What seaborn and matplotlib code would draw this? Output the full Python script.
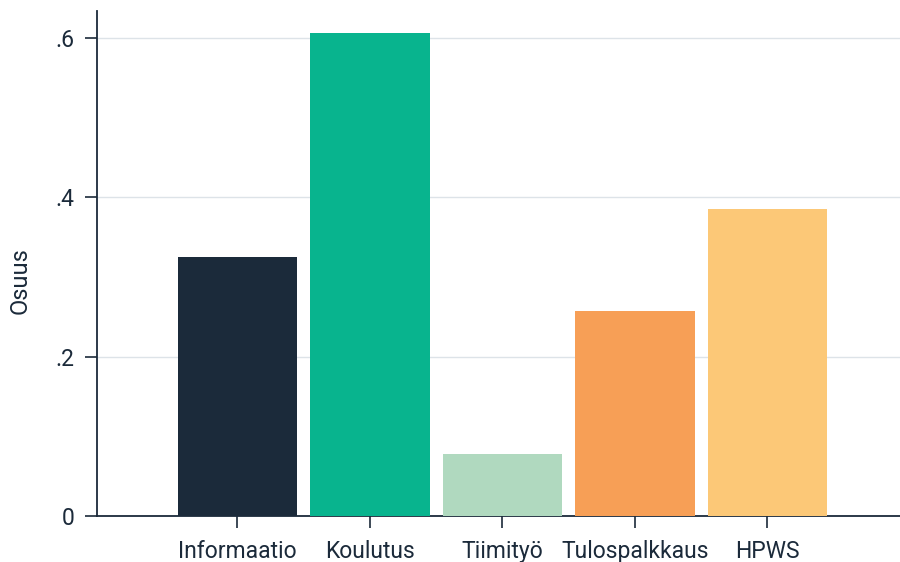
import numpy as np
import pandas as pd
import matplotlib.pyplot as plt
import seaborn as sns

categories = ["Informaatio", "Koulutus", "Tiimityö", "Tulospalkkaus", "HPWS"]
osuus = [0.325, 0.606, 0.078, 0.257, 0.385]
colors = ["#1b2a3a", "#08b48e", "#b0d9bf", "#f79f56", "#fcc877"]
yticks = [0, 0.2, 0.4, 0.6]
ytick_labels = ["0", ".2", ".4", ".6"]

df = pd.DataFrame({"kategoria": categories, "osuus": osuus})

sns.set_style("white")
plt.rcParams["font.family"] = ["Roboto", "DejaVu Sans"]
navy = "#1b2a3a"

fig = plt.figure(figsize=(9, 5.62), dpi=100)
ax = fig.add_axes([97 / 900, 46 / 562, 803 / 900, 505 / 562])
sns.barplot(data=df, x="kategoria", y="osuus", hue="kategoria", order=categories,
            hue_order=categories, palette=colors, width=0.9, saturation=1,
            legend=False, linewidth=0, ax=ax, zorder=3)

ax.set_xlim(-1.06, 5.0)
ax.set_ylim(0, 0.634)
ax.set_yticks(yticks)
ax.set_yticklabels(ytick_labels)
ax.yaxis.grid(True, color="#dde3e8", linewidth=1, zorder=0)
ax.set_axisbelow(True)
ax.set_xlabel("")
ax.set_ylabel("Osuus", fontsize=17, color=navy)
ax.yaxis.set_label_coords(-0.082, 0.467)
for side in ["top", "right"]:
    ax.spines[side].set_visible(False)
for side in ["left", "bottom"]:
    ax.spines[side].set_color(navy)
    ax.spines[side].set_linewidth(1.3)
ax.tick_params(axis="both", colors=navy, labelsize=16.5, length=8.5, width=1.2,
               direction="out", left=True, bottom=True)
ax.tick_params(axis="x", pad=9)
ax.tick_params(axis="y", pad=8)

fig.savefig("out.png", dpi=100)
